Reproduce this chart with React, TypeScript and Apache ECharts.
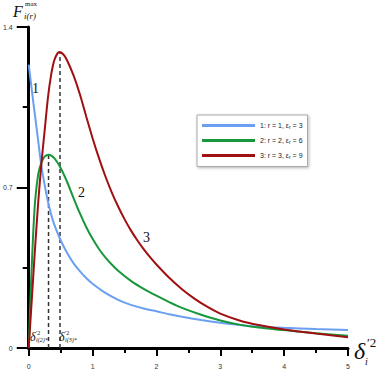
import React, { useEffect, useRef } from "react";
import * as echarts from "echarts";

// Curve 1 (blue): r = 1, eps = 3
const x1 = [0, 0.05, 0.1, 0.15, 0.2, 0.25, 0.3, 0.35, 0.4, 0.5, 0.6, 0.7, 0.8, 0.9, 1.0, 1.2, 1.4, 1.6, 1.8, 2.0, 2.2, 2.4, 2.7, 3.0, 3.3, 3.6, 4.0, 4.5, 5.0];
const y1 = [1.236, 1.12, 1.01, 0.9, 0.79, 0.71, 0.64, 0.583, 0.538, 0.47, 0.415, 0.37, 0.335, 0.305, 0.28, 0.24, 0.21, 0.188, 0.172, 0.16, 0.147, 0.136, 0.122, 0.11, 0.1, 0.093, 0.088, 0.083, 0.079];
// Curve 2 (green): r = 2, eps = 6
const x2 = [0, 0.036, 0.07, 0.1, 0.15, 0.2, 0.25, 0.31, 0.4, 0.5, 0.6, 0.7, 0.8, 0.9, 1.0, 1.1, 1.2, 1.3, 1.4, 1.6, 1.8, 2.0, 2.2, 2.4, 2.7, 3.0, 3.3, 3.6, 4.0, 4.5, 5.0];
const y2 = [0, 0.28, 0.5, 0.64, 0.76, 0.81, 0.835, 0.843, 0.828, 0.785, 0.725, 0.655, 0.588, 0.528, 0.476, 0.432, 0.395, 0.364, 0.337, 0.293, 0.258, 0.228, 0.2, 0.175, 0.145, 0.12, 0.102, 0.089, 0.078, 0.064, 0.053];
// Curve 3 (red): r = 3, eps = 9
const x3 = [0, 0.05, 0.1, 0.15, 0.2, 0.25, 0.3, 0.35, 0.4, 0.45, 0.48, 0.55, 0.6, 0.7, 0.8, 0.9, 1.0, 1.1, 1.2, 1.3, 1.4, 1.5, 1.6, 1.7, 1.8, 1.9, 2.0, 2.2, 2.4, 2.6, 2.8, 3.0, 3.3, 3.6, 4.0, 4.5, 5.0];
const y3 = [0, 0.22, 0.44, 0.64, 0.81, 0.95, 1.09, 1.19, 1.255, 1.285, 1.291, 1.278, 1.255, 1.19, 1.108, 1.01, 0.915, 0.828, 0.749, 0.679, 0.617, 0.562, 0.513, 0.47, 0.431, 0.396, 0.364, 0.306, 0.256, 0.214, 0.179, 0.15, 0.12, 0.1, 0.081, 0.063, 0.047];

// Peak positions marked with dashed lines
const peakX = [0.31, 0.49];
const peakY = [0.843, 1.291];

const seriesNames = ["1: r = 1, εr = 3", "2: r = 2, εr = 6", "3: r = 3, εr = 9"];
const legendR = ["1", "2", "3"];
const legendEps = ["3", "6", "9"];
const yLabels = [0, 0.7, 1.4];

const zip = (xs: number[], ys: number[]) => xs.map((x, i) => [x, ys[i]]);

const SERIF = "'Liberation Serif', 'DejaVu Serif', serif";
const SANS = "'Liberation Sans', Arial, sans-serif";

export default function App() {
  const ref = useRef<HTMLDivElement>(null);
  useEffect(() => {
    if (!ref.current) return;
    document.body.style.margin = "0";
    const chart = echarts.init(ref.current, null, { renderer: "svg" });
    const colors = ["#6b9ff2", "#17973a", "#a01010"];
    const txt = (text: string, x: number, y: number, size: number, italic = true) => ({
      type: "text",
      x,
      y,
      silent: true,
      style: {
        text,
        fontSize: size,
        fontFamily: SERIF,
        fontStyle: italic ? "italic" : "normal",
        fill: "#111",
        align: "left",
        verticalAlign: "top",
      },
    });
    const deltaLabel = (x: number, y: number, idx: string) => [
      txt("δ", x, y, 12),
      txt("′2", x + 6, y - 1, 6, false),
      txt("i(" + idx + ")*", x + 6, y + 6, 6),
    ];
    chart.setOption({
      animation: false,
      grid: { left: 27, right: 34, top: 27, bottom: 25 },
      xAxis: {
        type: "value",
        min: 0,
        max: 5,
        interval: 1,
        axisLine: { lineStyle: { color: "#000", width: 3 } },
        axisTick: { length: 8, lineStyle: { color: "#000", width: 2 } },
        minorTick: { show: true, splitNumber: 2, length: 5, lineStyle: { color: "#000", width: 2 } },
        axisLabel: { fontSize: 7, color: "#333", fontFamily: SANS, margin: 15 },
        splitLine: { show: false },
      },
      yAxis: {
        type: "value",
        min: 0,
        max: 1.4,
        interval: 0.7,
        axisLine: { show: true, lineStyle: { color: "#000", width: 3 } },
        axisTick: { show: true, length: 12, lineStyle: { color: "#000", width: 2 } },
        minorTick: { show: true, splitNumber: 2, length: 6, lineStyle: { color: "#000", width: 2 } },
        axisLabel: {
          fontSize: 7,
          color: "#333",
          fontFamily: SANS,
          margin: 16,
          formatter: (v: number) => (yLabels.some((l) => Math.abs(l - v) < 1e-6) ? String(Math.round(v * 10) / 10) : ""),
        },
        splitLine: { show: false },
      },
      legend: {
        orient: "vertical",
        left: 197,
        top: 115,
        data: seriesNames.map((n, i) => ({ name: n, icon: "rect", itemStyle: { color: colors[i] } })),
        itemWidth: 53,
        itemHeight: 3,
        itemGap: 7.5,
        padding: [7, 5, 7, 5],
        backgroundColor: "#fff",
        borderColor: "#aaa",
        borderWidth: 1,
        shadowBlur: 3,
        shadowColor: "rgba(0,0,0,0.3)",
        shadowOffsetX: 1,
        shadowOffsetY: 1,
        formatter: (name: string) => {
          const i = seriesNames.indexOf(name);
          return `{a|${legendR[i]}: r = ${legendR[i]}, ε}{s|r}{a| = ${legendEps[i]}}`;
        },
        textStyle: {
          fontSize: 7,
          color: "#222",
          fontFamily: SANS,
          rich: {
            a: { fontSize: 7, fontFamily: SANS, color: "#222" },
            s: { fontSize: 5, fontFamily: SANS, color: "#222", padding: [3, 0, 0, 0] },
          },
        },
      },
      series: [
        ...[zip(x1, y1), zip(x2, y2), zip(x3, y3)].map((d, i) => ({
          type: "line",
          name: seriesNames[i],
          data: d,
          smooth: 0.25,
          showSymbol: false,
          symbol: "none",
          lineStyle: { color: colors[i], width: 2 },
          itemStyle: { color: colors[i] },
          z: 3,
        })),
        ...peakX.map((px, i) => ({
          type: "line",
          name: "peak" + i,
          data: [
            [px, 0],
            [px, peakY[i]],
          ],
          symbol: "none",
          silent: true,
          lineStyle: { color: "#333", width: 1.5, type: [4, 3] },
          z: 2,
        })),
      ],
      graphic: [
        // y axis title F^max_{i(r)}
        txt("F", 13, 3, 16),
        txt("max", 25, 0, 7, false),
        txt("i(r)", 24, 11, 9),
        // x axis title δ'^2_i
        txt("δ", 354, 339, 24),
        txt("′2", 367, 336, 13, false),
        txt("i", 365, 356, 10),
        // curve labels
        txt("1", 32, 81, 14, false),
        txt("2", 78, 185, 14, false),
        txt("3", 143, 230, 14, false),
        ...deltaLabel(30, 331, "2"),
        ...deltaLabel(59, 331, "3"),
      ],
    });
    return () => chart.dispose();
  }, []);
  return <div ref={ref} style={{ width: 382, height: 373 }} />;
}
